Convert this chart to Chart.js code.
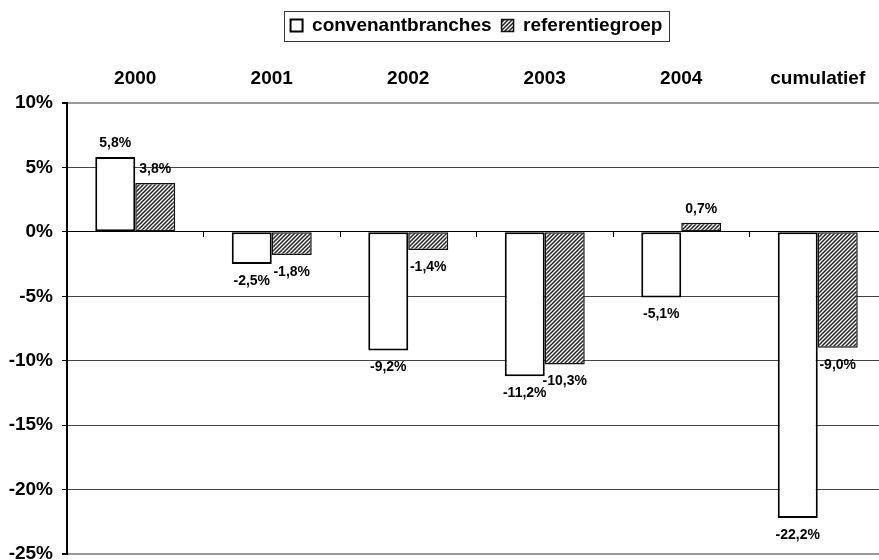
<!DOCTYPE html>
<html>
<head>
<meta charset="utf-8">
<script src="https://cdn.jsdelivr.net/npm/chart.js@4/dist/chart.umd.min.js"></script>
<style>
  html, body { margin: 0; padding: 0; background: #fff; overflow: hidden; }
  #wrap { width: 900px; height: 600px; }
</style>
</head>
<body>
<div id="wrap"><canvas id="chart" width="900" height="600"></canvas></div>
<script>
/* ====== DATA ====== */
const categories = ["2000", "2001", "2002", "2003", "2004", "cumulatief"];
const convenantbranches = [5.8, -2.5, -9.2, -11.2, -5.1, -22.2];
const referentiegroep = [3.8, -1.8, -1.4, -10.3, 0.7, -9.0];
const seriesNames = ["convenantbranches", "referentiegroep"];
const yTicks = { min: -25, max: 10, step: 5 };

const FONT = "'Liberation Sans', Arial, sans-serif";

/* hatch fill for the second series */
function makeHatch() {
    const c = document.createElement("canvas");
    c.width = 4; c.height = 4;
    const g = c.getContext("2d");
    g.fillStyle = "#fff";
    g.fillRect(0, 0, 4, 4);
    g.strokeStyle = "#222";
    g.lineWidth = 1.5;
    g.beginPath();
    g.moveTo(-1, 5); g.lineTo(5, -1);
    g.moveTo(-1, 1); g.lineTo(1, -1);
    g.moveTo(3, 5); g.lineTo(5, 3);
    g.stroke();
    return g.createPattern(c, "repeat");
}
const hatch = makeHatch();

const fmt = v => v.toFixed(1).replace(".", ",") + "%";

/* value labels above / below each bar */
const valueLabels = {
    id: "valueLabels",
    afterDatasetsDraw(chart) {
        const ctx = chart.ctx;
        ctx.save();
        ctx.font = "bold 14px " + FONT;
        ctx.fillStyle = "#000";
        ctx.textAlign = "center";
        chart.data.datasets.forEach((ds, i) => {
            chart.getDatasetMeta(i).data.forEach((bar, j) => {
                const v = ds.data[j];
                if (v >= 0) {
                    ctx.textBaseline = "bottom";
                    ctx.fillText(fmt(v), bar.x, bar.y - 7);
                } else {
                    ctx.textBaseline = "top";
                    ctx.fillText(fmt(v), bar.x, bar.y + 10);
                }
            });
        });
        ctx.restore();
    }
};

/* frame round the legend */
const legendFrame = {
    id: "legendFrame",
    afterDraw(chart) {
        const boxes = chart.legend.legendHitBoxes;
        if (!boxes || !boxes.length) return;
        const l = Math.min(...boxes.map(b => b.left)) - 7;
        const r = Math.max(...boxes.map(b => b.left + b.width)) + 6;
        const t = Math.min(...boxes.map(b => b.top)) - 5;
        const btm = Math.max(...boxes.map(b => b.top + b.height)) + 6;
        const ctx = chart.ctx;
        ctx.save();
        ctx.strokeStyle = "#333";
        ctx.lineWidth = 1;
        ctx.strokeRect(Math.round(l) + 0.5, Math.round(t) + 0.5, Math.round(r - l), Math.round(btm - t));
        ctx.restore();
    }
};

new Chart(document.getElementById("chart"), {
    type: "bar",
    data: {
        labels: categories,
        datasets: [
            {
                label: seriesNames[0],
                data: convenantbranches,
                backgroundColor: "#fff",
                borderColor: "#000",
                borderWidth: 2,
                borderSkipped: false
            },
            {
                label: seriesNames[1],
                data: referentiegroep,
                backgroundColor: hatch,
                borderColor: "#111",
                borderWidth: 1.5,
                borderSkipped: false
            }
        ]
    },
    options: {
        responsive: false,
        animation: false,
        devicePixelRatio: 1,
        layout: { padding: { top: 6, right: 14, bottom: 46, left: 0 } },
        categoryPercentage: 0.586,
        barPercentage: 1,
        plugins: {
            legend: {
                position: "top",
                fullSize: false,
                labels: {
                    color: "#000",
                    font: { family: FONT, size: 19, weight: "bold" },
                    boxWidth: 12,
                    boxHeight: 12,
                    padding: 10
                }
            },
            tooltip: { enabled: false }
        },
        scales: {
            x: {
                position: "top",
                offset: true,
                afterFit(scale) { scale.height = 58; },
                grid: { display: false, drawTicks: false },
                border: { display: false },
                ticks: {
                    color: "#000",
                    padding: 13,
                    font: { family: FONT, size: 19, weight: "bold" }
                }
            },
            x2: {
                type: "category",
                labels: categories,
                position: { y: 0 },
                offset: true,
                grid: {
                    offset: true,
                    drawOnChartArea: false,
                    tickLength: 5,
                    tickColor: "#000",
                    tickWidth: 1
                },
                border: { display: false },
                ticks: { display: false }
            },
            y: {
                min: yTicks.min,
                max: yTicks.max,
                afterFit(scale) { scale.width = 67; },
                ticks: {
                    stepSize: yTicks.step,
                    color: "#000",
                    padding: 9,
                    font: { family: FONT, size: 19, weight: "bold" },
                    callback: v => v + "%"
                },
                grid: {
                    tickLength: 5,
                    tickColor: "#000",
                    color: c => c.tick.value === 0 ? "#000"
                        : (c.tick.value === yTicks.max || c.tick.value === yTicks.min) ? "#999" : "#444",
                    lineWidth: c => (c.tick.value === yTicks.max || c.tick.value === yTicks.min) ? 2 : 1
                },
                border: { color: "#000", width: 2 }
            }
        }
    },
    plugins: [valueLabels, legendFrame]
});
</script>
</body>
</html>
